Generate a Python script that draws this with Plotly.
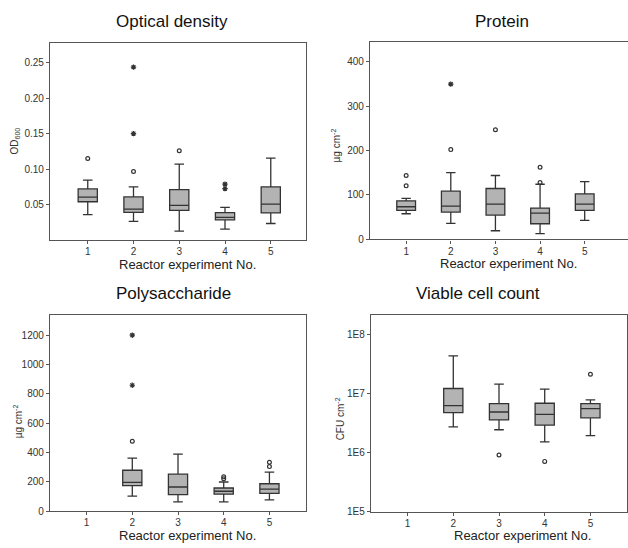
import plotly.graph_objects as go

W, H = 628, 548

# ---------------- data ----------------
# Optical density (OD600)
od_x = [1, 2, 3, 4, 5]
od_lo = [0.036, 0.0266, 0.013, 0.0158, 0.0237]
od_q1 = [0.0542, 0.0394, 0.042, 0.0288, 0.0385]
od_med = [0.0606, 0.044, 0.049, 0.0324, 0.051]
od_q3 = [0.0722, 0.061, 0.0712, 0.039, 0.075]
od_hi = [0.0845, 0.075, 0.107, 0.0463, 0.1156]
od_circ_x = [1, 2, 3]
od_circ_y = [0.115, 0.0967, 0.126]
od_star_x = [2, 2, 4, 4]
od_star_y = [0.150, 0.2435, 0.079, 0.0727]

# Protein (µg cm-2)
pr_x = [1, 2, 3, 4, 5]
pr_lo = [57.6, 35.9, 19.4, 12.7, 42.6]
pr_q1 = [65, 61.3, 54.6, 35.1, 65]
pr_med = [73.3, 74.8, 79.3, 59, 79.3]
pr_q3 = [86.7, 108.4, 114.4, 70.3, 102.4]
pr_hi = [92, 150.3, 143.6, 124, 130]
pr_circ_x = [1, 1, 2, 3, 4, 4]
pr_circ_y = [120.4, 143.6, 201.9, 246.7, 127.9, 162.2]
pr_star_x = [2]
pr_star_y = [349.2]

# Polysaccharide (µg cm-2)
ps_x = [2, 3, 4, 5]
ps_lo = [103, 65, 65, 78.5]
ps_q1 = [175, 114, 117, 123]
ps_med = [197, 166, 137, 152]
ps_q3 = [280, 253, 159, 188]
ps_hi = [363, 390, 200, 267]
ps_circ_x = [2, 4, 4, 5, 5]
ps_circ_y = [478, 235, 222, 334, 305]
ps_star_x = [2, 2]
ps_star_y = [859, 1200]

# Viable cell count (CFU cm-2)
vc_x = [2, 3, 4, 5]
vc_lo = [2.75e6, 2.45e6, 1.52e6, 1.94e6]
vc_q1 = [4.77e6, 3.6e6, 2.93e6, 3.9e6]
vc_med = [6.3e6, 4.9e6, 4.48e6, 5.6e6]
vc_q3 = [1.23e7, 6.8e6, 6.9e6, 6.8e6]
vc_hi = [4.4e7, 1.46e7, 1.2e7, 7.9e6]
vc_circ_x = [3, 4, 5]
vc_circ_y = [9.1e5, 7.1e5, 2.14e7]

x_ticks = [1, 2, 3, 4, 5]
x_ticklabels = ["1", "2", "3", "4", "5"]
vc_tickvals = [1e5, 1e6, 1e7, 1e8]
vc_ticktext = ["1E5", "1E6", "1E7", "1E8"]

titles = ["Optical density", "Protein", "Polysaccharide", "Viable cell count"]
xtitle = "Reactor experiment No."
ytitles = ["OD<sub>600</sub>", "µg cm<sup>-2</sup>", "µg cm<sup>-2</sup>", "CFU cm<sup>-2</sup>"]

# ---------------- style ----------------
LINE = "#333333"
FILL = "#b3b3b3"
FONT = "Liberation Sans, Arial, sans-serif"

fig = go.Figure()

panels = [
    (od_x, od_lo, od_q1, od_med, od_q3, od_hi, od_circ_x, od_circ_y, od_star_x, od_star_y, "x", "y"),
    (pr_x, pr_lo, pr_q1, pr_med, pr_q3, pr_hi, pr_circ_x, pr_circ_y, pr_star_x, pr_star_y, "x2", "y2"),
    (ps_x, ps_lo, ps_q1, ps_med, ps_q3, ps_hi, ps_circ_x, ps_circ_y, ps_star_x, ps_star_y, "x3", "y3"),
    (vc_x, vc_lo, vc_q1, vc_med, vc_q3, vc_hi, vc_circ_x, vc_circ_y, [], [], "x4", "y4"),
]

for (xs, lo, q1, med, q3, hi, cx, cy, sx, sy, xa, ya) in panels:
    fig.add_trace(go.Box(
        x=xs, q1=q1, median=med, q3=q3, lowerfence=lo, upperfence=hi,
        width=0.42, whiskerwidth=0.5, boxpoints=False,
        fillcolor=FILL, line=dict(color=LINE, width=1.3),
        xaxis=xa, yaxis=ya, hoverinfo="skip",
    ))
    if cx:
        fig.add_trace(go.Scatter(
            x=cx, y=cy, mode="markers", xaxis=xa, yaxis=ya,
            marker=dict(symbol="circle-open", size=3.8, color=LINE, line=dict(width=1.2, color=LINE)),
        ))
    if sx:
        fig.add_trace(go.Scatter(
            x=sx, y=sy, mode="markers", xaxis=xa, yaxis=ya,
            marker=dict(symbol="asterisk-open", size=4.5, color=LINE, line=dict(width=1.2, color=LINE)),
        ))


def px_x(p):
    return p / W


def px_y(p):
    return 1 - p / H


axis_common = dict(
    showline=True, linecolor="#555555", linewidth=1.3, ticks="outside", ticklen=3,
    tickcolor="#555555", tickwidth=1, showgrid=False, zeroline=False,
    tickfont=dict(family=FONT, size=10, color="#333333"),
)

# domains (pixel based)
doms = [
    ((50, 306), (43, 243)),
    ((370, 640), (42, 242)),
    ((50, 306), (318, 517)),
    ((371, 627), (318, 517.5)),
]
xranges = [[0.175, 5.77], [0.19, 5.97], [0.2, 5.8], [0.2, 5.8]]
yranges = [[0, 0.278], [0, 445], [0, 1341], [4.995, 8.346]]
ytickvals = [[0.05, 0.10, 0.15, 0.20, 0.25], [0, 100, 200, 300, 400],
             [0, 200, 400, 600, 800, 1000, 1200], vc_tickvals]
yticktexts = [["0.05", "0.10", "0.15", "0.20", "0.25"], ["0", "100", "200", "300", "400"],
              ["0", "200", "400", "600", "800", "1000", "1200"], vc_ticktext]

for i in range(4):
    (x0, x1), (y0, y1) = doms[i]
    sfx = "" if i == 0 else str(i + 1)
    xd = [max(0, px_x(x0)), min(1, px_x(x1))]
    yd = [px_y(y1), px_y(y0)]
    fig.layout["xaxis" + sfx] = dict(
        axis_common, domain=xd, range=xranges[i], tickvals=x_ticks, ticktext=x_ticklabels,
        mirror=True, anchor="y" + sfx, ticklabelstandoff=-1,
    )
    ya = dict(axis_common, domain=yd, range=yranges[i], tickvals=ytickvals[i],
              ticktext=yticktexts[i], mirror=(i != 1), anchor="x" + sfx)
    if i == 3:
        ya["type"] = "log"
    fig.layout["yaxis" + sfx] = ya

# titles and axis labels
title_pos = [(172, 22), (502, 22), (173, 297), (478, 297)]
xt_pos = [(187, 267), (508, 266), (187, 541), (522, 541)]
yt_pos = [(15, 143), (336, 147), (18, 426), (340, 424)]
ann = []
for i in range(4):
    ann.append(dict(text=titles[i], x=px_x(title_pos[i][0]), y=px_y(title_pos[i][1]),
                    xref="paper", yref="paper", showarrow=False, xanchor="center", yanchor="middle",
                    font=dict(family=FONT, size=17, color="#111111")))
    ann.append(dict(text=xtitle, x=px_x(xt_pos[i][0]), y=px_y(xt_pos[i][1]),
                    xref="paper", yref="paper", showarrow=False, xanchor="center", yanchor="middle",
                    font=dict(family=FONT, size=13, color="#222222")))
    ann.append(dict(text=ytitles[i], x=px_x(yt_pos[i][0]), y=px_y(yt_pos[i][1]),
                    xref="paper", yref="paper", showarrow=False, xanchor="center", yanchor="middle",
                    textangle=-90, font=dict(family=FONT, size=10, color="#333333")))

fig.update_layout(
    width=W, height=H, margin=dict(l=0, r=0, t=0, b=0),
    paper_bgcolor="white", plot_bgcolor="white", showlegend=False,
    annotations=ann,
)

fig.write_html("out.html", config={"displayModeBar": False},
               post_script="document.body.style.margin='0';document.body.style.overflow='hidden';")
